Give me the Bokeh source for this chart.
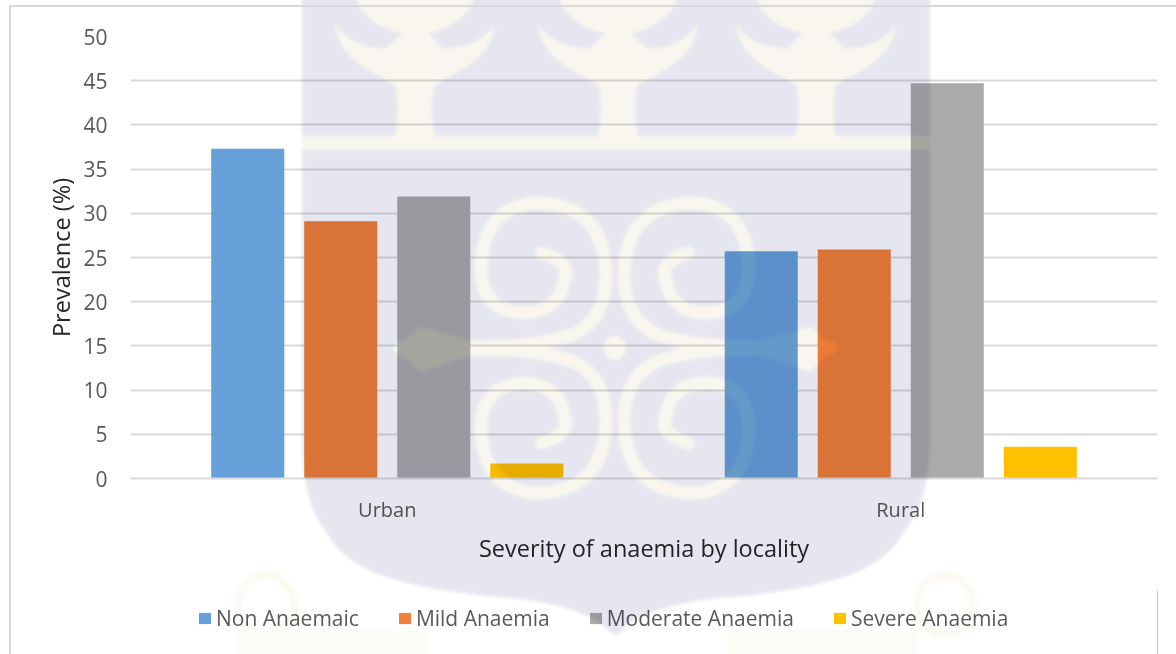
from urllib.parse import quote
from bokeh.plotting import figure
from bokeh.layouts import column
from bokeh.models import ColumnDataSource, FactorRange, Range1d, Legend, LegendItem, InlineStyleSheet
from bokeh.transform import dodge
from bokeh.embed import file_html
from bokeh.resources import INLINE

localities = ["Urban", "Rural"]
non_anaemic = [37.3, 25.7]
mild = [29.1, 25.9]
moderate = [31.9, 44.7]
severe = [1.7, 3.6]
series_names = ["Non Anaemaic", "Mild Anaemia", "Moderate Anaemia", "Severe Anaemia"]
colors = ["#66A0D8", "#F27F3A", "#AAAAAA", "#FFC000"]
y_ticks = list(range(0, 51, 5))
FONT = "Open Sans"

W, H = 1176, 654
TOP_H = 590
p = figure(width=W, height=TOP_H, x_range=FactorRange(*localities, range_padding=0, factor_padding=0),
           y_range=Range1d(0, 50), output_backend="svg", toolbar_location=None,
           min_border_left=130, min_border_right=19, min_border_top=36, min_border_bottom=112,
           outline_line_color=None, background_fill_color="white", border_fill_color="white")

src = ColumnDataSource(dict(loc=localities, a=non_anaemic, b=mild, c=moderate, d=severe))
offs = [-0.2717, -0.0906, 0.0906, 0.2717]
for col, off, c in zip("abcd", offs, colors):
    p.vbar(x=dodge("loc", off, range=p.x_range), top=col, width=0.1422, bottom=0, source=src,
           fill_color=c, line_color=None)

p.yaxis.ticker = y_ticks
p.yaxis.axis_line_color = None
p.yaxis.major_tick_line_color = None
p.yaxis.minor_tick_line_color = None
p.yaxis.major_label_text_font = FONT
p.yaxis.major_label_text_font_size = "21px"
p.yaxis.major_label_text_color = "#595959"
p.yaxis.major_label_standoff = 17
p.yaxis.axis_label = "Prevalence (%)"
p.yaxis.axis_label_text_font = FONT
p.yaxis.axis_label_text_font_size = "23.5px"
p.yaxis.axis_label_text_font_style = "normal"
p.yaxis.axis_label_text_color = "#262626"
p.yaxis.axis_label_standoff = 3

p.xaxis.axis_line_color = "#D9D9D9"
p.xaxis.axis_line_width = 2
p.xaxis.major_tick_line_color = None
p.xaxis.minor_tick_line_color = None
p.xaxis.major_label_text_font = FONT
p.xaxis.major_label_text_font_size = "20px"
p.xaxis.major_label_text_color = "#595959"
p.xaxis.major_label_standoff = 11
p.xaxis.axis_label = "Severity of anaemia by locality"
p.xaxis.axis_label_text_font = FONT
p.xaxis.axis_label_text_font_size = "23.5px"
p.xaxis.axis_label_text_font_style = "normal"
p.xaxis.axis_label_text_color = "#262626"
p.xaxis.axis_label_standoff = 6

p.xgrid.grid_line_color = None
p.ygrid.ticker = y_ticks
p.ygrid.grid_line_color = "#D9D9D9"
p.ygrid.grid_line_width = 2

# legend strip under the chart; its frame lines up with the chart's, keys are drawn off view
q = figure(width=W, height=H - TOP_H, x_range=Range1d(0, 1), y_range=Range1d(0, 1), output_backend="svg",
           toolbar_location=None, x_axis_location=None, y_axis_location=None, min_border=0,
           outline_line_color=None, background_fill_color="white", border_fill_color="white")
q.grid.visible = False
keys = [q.vbar(x=[5], top=[5], width=0.1, fill_color=c, line_color=None) for c in colors]
legend = Legend(items=[LegendItem(label=n, renderers=[r]) for n, r in zip(series_names, keys)],
                orientation="horizontal", location=(67, 22), border_line_color=None,
                background_fill_alpha=0, label_text_font=FONT, label_text_font_size="21px",
                label_text_color="#595959", glyph_width=15, glyph_height=14, spacing=38,
                label_standoff=4, margin=0, padding=0)
q.add_layout(legend)

# watermark and chart frame: a decorative sheet multiplied over the page
mx = lambda x: 1230 - x
my = lambda y: 696 - y
spiral = [(542, 253), (564, 280), (521, 313), (481, 267), (538, 203), (606, 273), (576, 333), (471, 347), (400, 348)]
def spiral_path(fx, fy):
    pts = [(fx(x), fy(y)) for x, y in spiral]
    d = f"M{pts[0][0]} {pts[0][1]}"
    d += f" Q{fx(572)} {fy(262)} {pts[1][0]} {pts[1][1]}"
    d += f" Q{fx(560)} {fy(313)} {pts[2][0]} {pts[2][1]}"
    d += f" Q{fx(481)} {fy(310)} {pts[3][0]} {pts[3][1]}"
    d += f" Q{fx(484)} {fy(205)} {pts[4][0]} {pts[4][1]}"
    d += f" Q{fx(604)} {fy(205)} {pts[5][0]} {pts[5][1]}"
    d += f" Q{fx(606)} {fy(318)} {pts[6][0]} {pts[6][1]}"
    d += f" Q{fx(545)} {fy(347)} {pts[7][0]} {pts[7][1]}"
    d += f" L{pts[8][0]} {pts[8][1]}"
    return f'<path d="{d}" fill="none" stroke="#F8F6EE" stroke-width="13" stroke-linecap="round"/>'

def cup(cx):
    return (f'<path d="M{cx-80} 25 C{cx-75} 60 {cx-45} 70 {cx-20} 85 C{cx-15} 100 {cx-18} 125 {cx-20} 137 '
            f'L{cx+20} 137 C{cx+18} 125 {cx+15} 100 {cx+20} 85 C{cx+45} 70 {cx+75} 60 {cx+80} 25 '
            f'Q{cx+60} 50 {cx+28} 48 Q{cx+15} 35 {cx+10} 30 L{cx-10} 30 Q{cx-15} 35 {cx-28} 48 Q{cx-60} 50 {cx-80} 25 Z" fill="#F8F6EE"/>'
            f'<ellipse cx="{cx}" cy="-10" rx="60" ry="44" fill="#F8F6EE"/>')

shield = ("M302 -5 L930 -5 L930 445 Q928 505 905 530 Q890 560 850 575 Q800 592 720 598 Q660 604 632 622 "
          "L615 636 L598 622 Q570 604 510 598 Q430 592 380 575 Q340 560 325 530 Q304 505 302 445 Z")
corners = "".join(
    f'<ellipse cx="{c}" cy="605" rx="28" ry="30" fill="none" stroke="#FBF9F2" stroke-width="8"/>'
    f'<path d="M{c-28} 630 h{d} v40 h{-d} Z" fill="#FCFBF6"/>' for c, d in [(266, 190), (945, -190)])
svg = (f'<svg xmlns="http://www.w3.org/2000/svg" width="{W}" height="{H}" viewBox="0 0 {W} {H}">'
       '<defs><filter id="b" x="-5%" y="-5%" width="110%" height="110%"><feGaussianBlur stdDeviation="1.6"/></filter></defs>'
       f'<rect width="{W}" height="{H}" fill="#fff"/>'
       f'<g filter="url(#b)">{corners}<path d="{shield}" fill="#E6E6F0"/>'
       f'<rect x="302" y="136" width="628" height="14" fill="#F8F6EE"/>'
       + cup(415) + cup(618) + cup(816)
       + spiral_path(lambda x: x, lambda y: y) + spiral_path(mx, lambda y: y)
       + spiral_path(lambda x: x, my) + spiral_path(mx, my)
       + '<polygon points="395,348 420,327 472,341 472,355 420,372" fill="#F8F6EE"/>'
       + '<polygon points="835,348 810,327 758,341 758,355 810,372" fill="#F8F6EE"/>'
       + '<ellipse cx="615" cy="348" rx="11" ry="12" fill="#F8F6EE"/></g>'
       '<rect x="10" y="6" width="1180" height="660" fill="none" stroke="#D9D9D9" stroke-width="2"/>'
       '</svg>')
css = (':host::after{content:"";position:absolute;left:0;top:0;width:%dpx;height:%dpx;pointer-events:none;z-index:10;'
       'mix-blend-mode:multiply;background:url("data:image/svg+xml,%s") no-repeat}' % (W, H, quote(svg)))

page = column(p, q, spacing=0, stylesheets=[InlineStyleSheet(css=css)])
open("out.html", "w").write(file_html(page, INLINE))
